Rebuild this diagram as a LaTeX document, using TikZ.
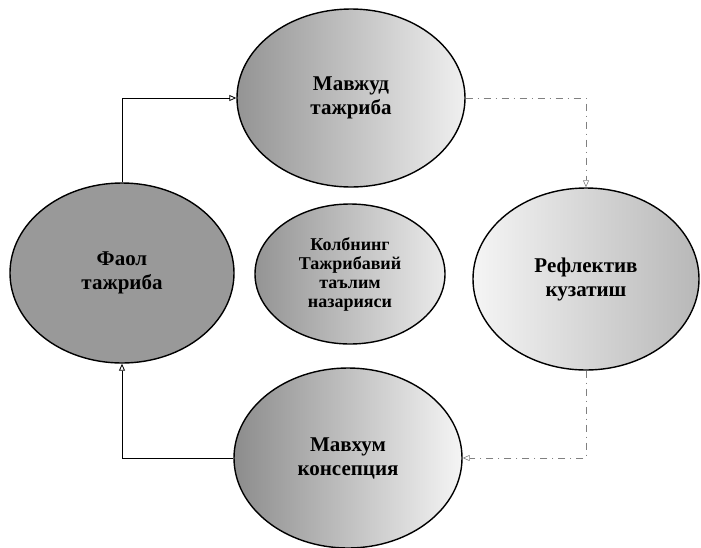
\documentclass[tikz,border=0pt]{standalone}
\usepackage{fontspec}
\setmainfont{Liberation Serif}
\usetikzlibrary{shapes,arrows.meta,positioning}

\begin{document}
\begin{tikzpicture}[x=1pt,y=-1pt,
  stage/.style={ellipse,draw,line width=1.4pt,inner sep=0pt,align=center,
    font=\bfseries\fontsize{21}{24}\selectfont},
  conn/.style={line width=0.8pt,-{Triangle[open,length=7pt,width=6pt]}},
  dconn/.style={conn,black!50,line width=0.6pt,dash pattern=on 7pt off 5pt on 1pt off 5pt}]
\useasboundingbox (0,0) rectangle (701,547);
\node[stage,minimum width=228pt,minimum height=178pt,left color=black!42,right color=black!6] (mavjud) at (351,98) {Мавжуд\\тажриба};
\node[stage,minimum width=224pt,minimum height=180pt,fill=black!40] (faol) at (122,273) {Фаол\\тажриба};
\node[stage,minimum width=190pt,minimum height=140pt,left color=black!42,right color=black!8,
  font=\bfseries\fontsize{18}{19}\selectfont] (kolb) at (350,274) {Колбнинг\\Тажрибавий\\таълим\\назарияси};
\node[stage,minimum width=226pt,minimum height=182pt,left color=black!4,right color=black!28] (reflek) at (586,279) {Рефлектив\\кузатиш};
\node[stage,minimum width=228pt,minimum height=180pt,left color=black!45,right color=black!4] (mavhum) at (348,458) {Мавхум\\консепция};
\draw[conn] (faol.north) |- (mavjud.west);
\draw[dconn] (mavjud.east) -| (reflek.north);
\draw[dconn] (reflek.south) |- (mavhum.east);
\draw[conn] (mavhum.west) -| (faol.south);
\end{tikzpicture}
\end{document}
